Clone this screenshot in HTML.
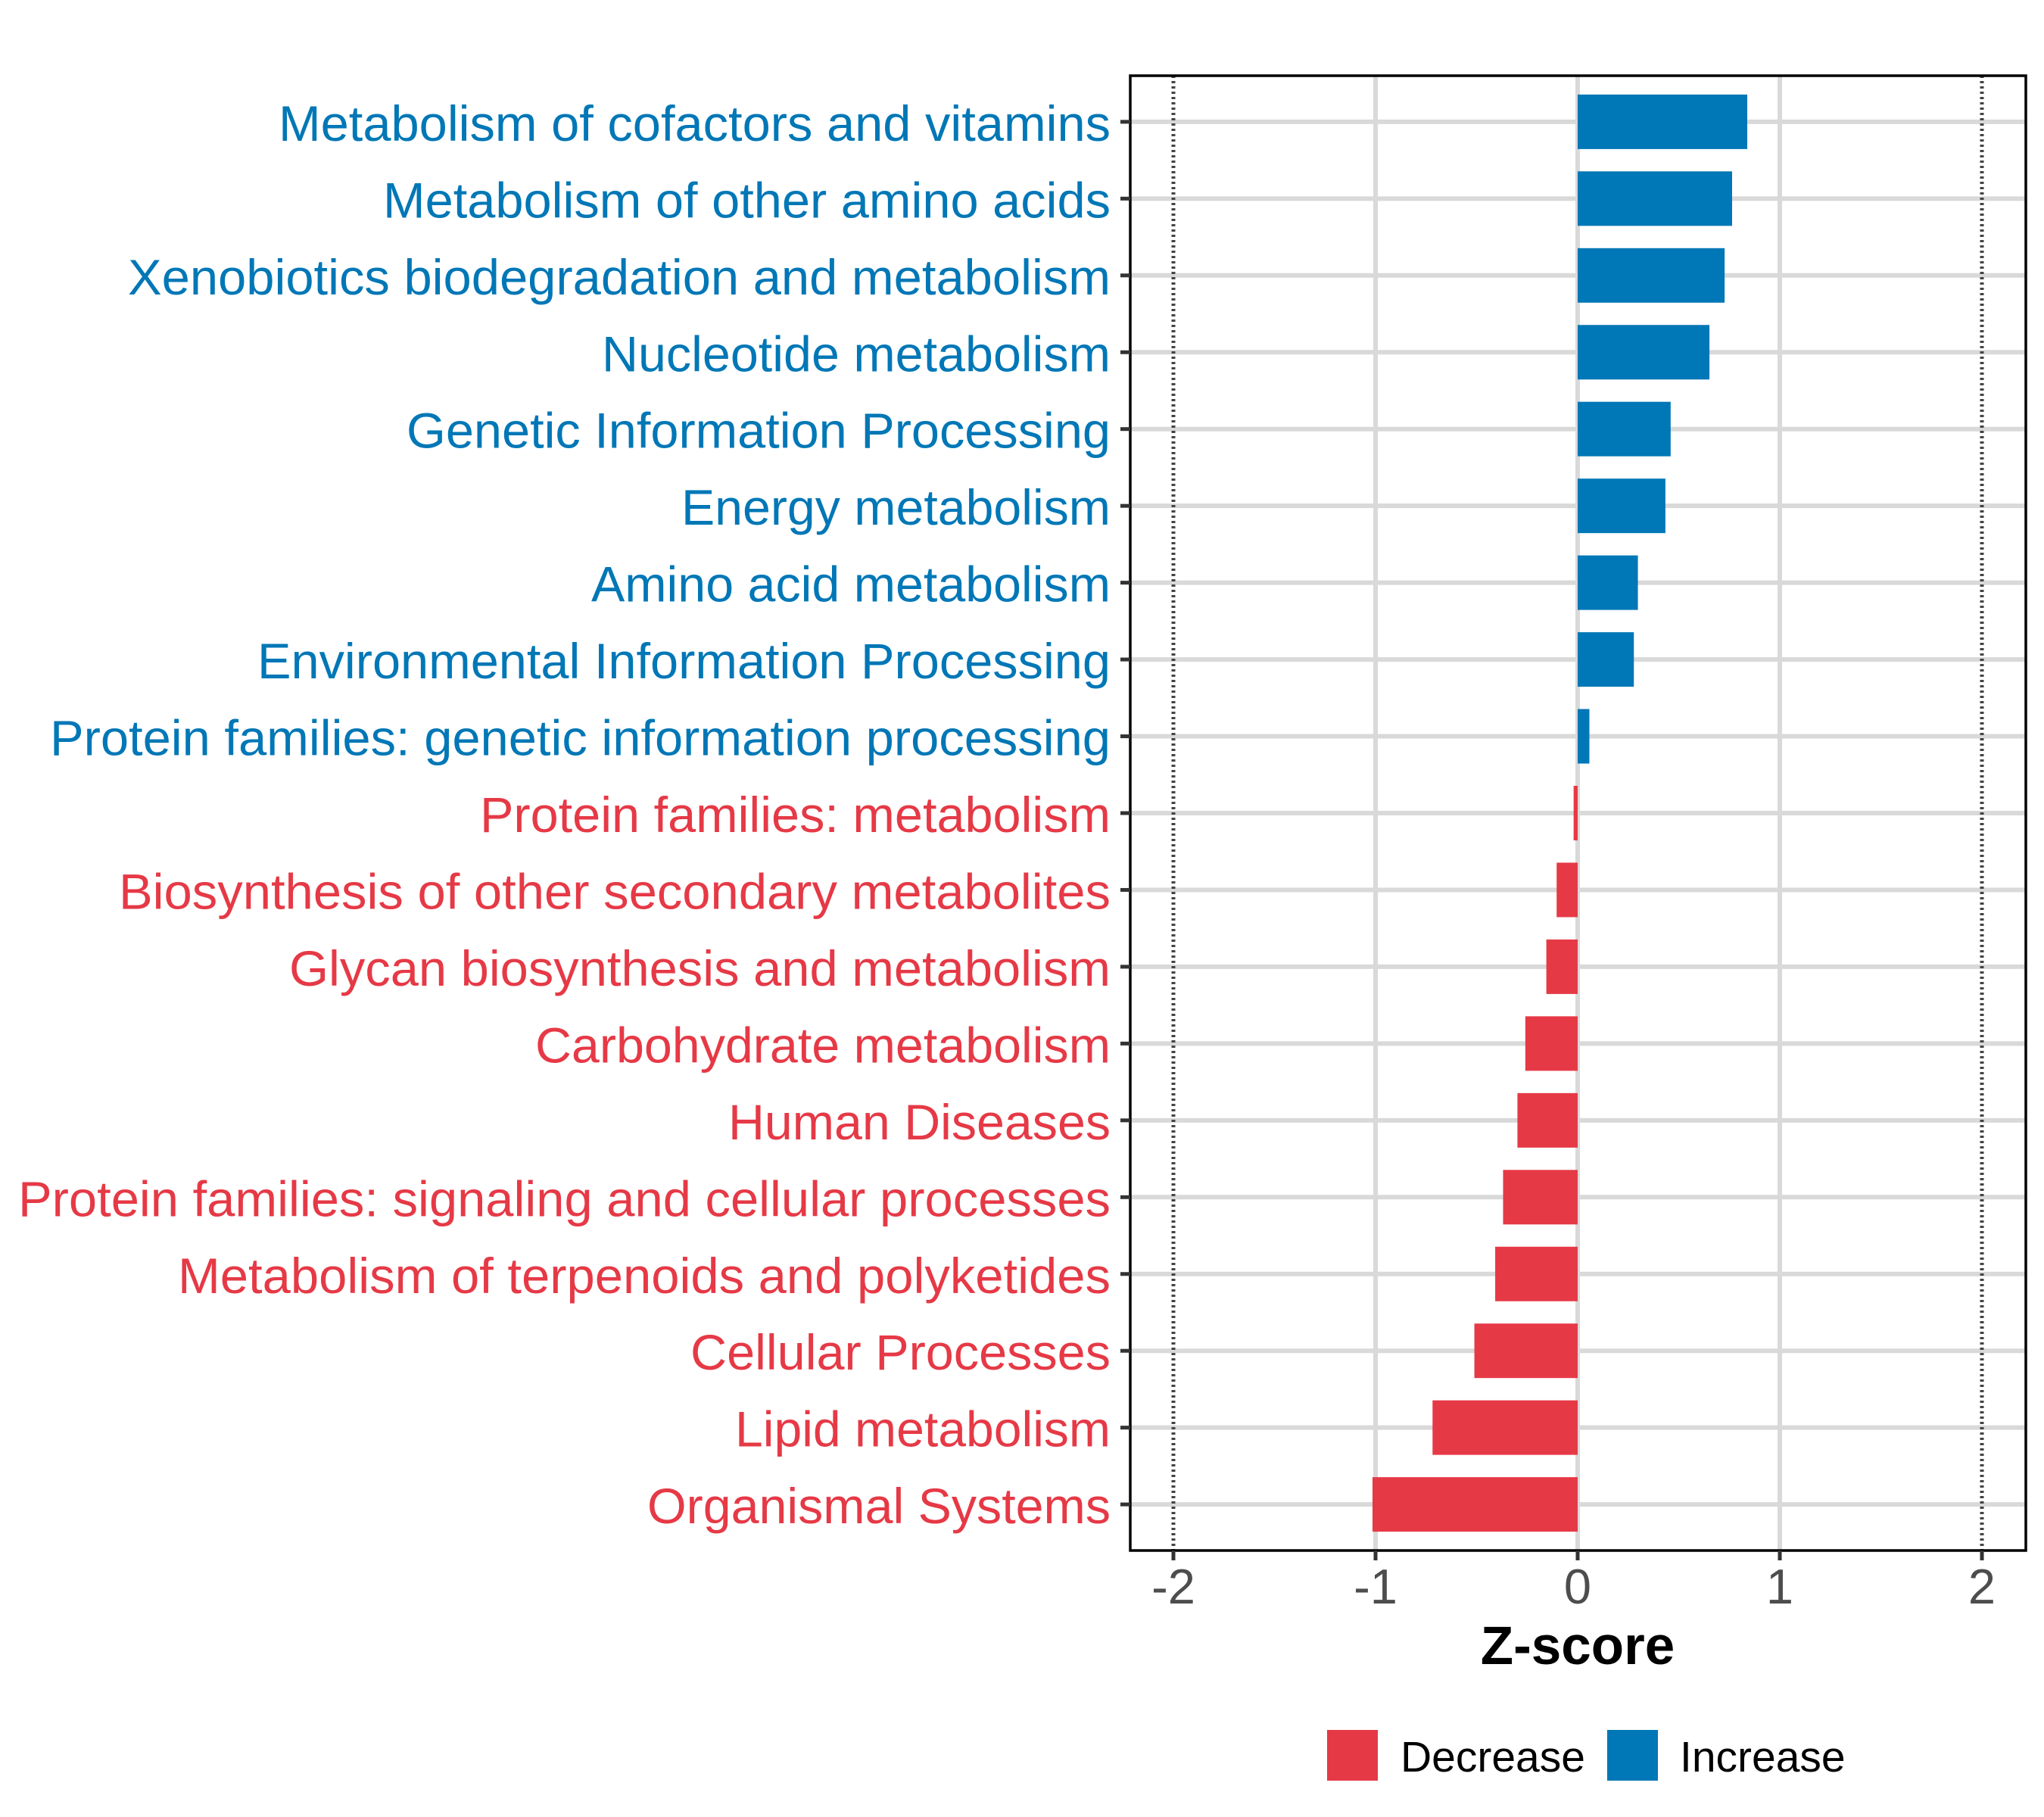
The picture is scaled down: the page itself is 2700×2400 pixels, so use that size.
<!DOCTYPE html>
<html><head><meta charset="utf-8"><style>
html,body{margin:0;padding:0;background:#fff;}
svg{display:block;font-family:"Liberation Sans",sans-serif;}
</style></head><body>
<svg id="chart" width="2700" height="2400" viewBox="0 0 2700 2400" xmlns="http://www.w3.org/2000/svg">
<g id="grid"></g>
<g id="bars"></g>
<g id="refs"></g>
<rect x="1493" y="100" width="1183" height="1948" fill="none" stroke="#000" stroke-width="3.5"/>
<g id="ylabels"></g>
<g id="xaxis"></g>
<text x="2084" y="2198" font-size="71" font-weight="bold" text-anchor="middle" fill="#000">Z-score</text>
<g>
<g>
<rect x="1753" y="2285" width="67" height="67" fill="#E63946"/>
<text x="1850" y="2340" font-size="57" fill="#000">Decrease</text>
</g>
<g>
<rect x="2123" y="2285" width="67" height="67" fill="#0077B6"/>
<text x="2219" y="2340" font-size="57" fill="#000">Increase</text>
</g>
</g>
</svg>
<script>
const categories = ["Metabolism of cofactors and vitamins","Metabolism of other amino acids","Xenobiotics biodegradation and metabolism","Nucleotide metabolism","Genetic Information Processing","Energy metabolism","Amino acid metabolism","Environmental Information Processing","Protein families: genetic information processing","Protein families: metabolism","Biosynthesis of other secondary metabolites","Glycan biosynthesis and metabolism","Carbohydrate metabolism","Human Diseases","Protein families: signaling and cellular processes","Metabolism of terpenoids and polyketides","Cellular Processes","Lipid metabolism","Organismal Systems"];
const zscores = [0.839,0.764,0.727,0.652,0.46,0.434,0.298,0.278,0.058,-0.02,-0.104,-0.155,-0.259,-0.298,-0.369,-0.408,-0.511,-0.718,-1.015];
const xTicks = [-2,-1,0,1,2];
const xTickLabels = ["-2","-1","0","1","2"];
const labelLefts = [368,506,169,795,537,900,781,340,66,634,157,382,707,962,24,235,912,971,855];

const NS="http://www.w3.org/2000/svg";
const PX0=1493, PX1=2676, PY0=100, PY1=2048;
const x0=2084, unit=267;
function xs(v){return x0+v*unit;}
const rowStep=(PY1-PY0)/19.2;
function ys(i){return PY0+(0.6+i)*rowStep;}
const RED="#E63946", BLUE="#0077B6";
const LABEL_RIGHT=1467;
function mk(tag,attrs,parent){const e=document.createElementNS(NS,tag);for(const k in attrs)e.setAttribute(k,attrs[k]);parent.appendChild(e);return e;}
const grid=document.getElementById('grid'),bars=document.getElementById('bars'),refs=document.getElementById('refs'),yl=document.getElementById('ylabels'),xa=document.getElementById('xaxis');

xTicks.forEach((t,i)=>{
  if(Math.abs(t)<2){
    const l=mk('line',{x1:xs(t),x2:xs(t),y1:PY0,y2:PY1,stroke:'#D9D9D9','stroke-width':6},grid);
    
    
  } else {
    const l=mk('line',{x1:xs(t),x2:xs(t),y1:PY0,y2:PY1,stroke:'#444','stroke-width':5,'stroke-dasharray':'3 4'},refs);
    
    
  }
  const tk=mk('line',{x1:xs(t),x2:xs(t),y1:PY1,y2:PY1+13,stroke:'#333','stroke-width':5},xa);
  
  
  const tx=mk('text',{x:xs(t),y:2118,'font-size':65,'text-anchor':'middle',fill:'#4D4D4D'},xa);
  tx.textContent=xTickLabels[i];
  
  
});

categories.forEach((c,i)=>{
  const y=ys(i);
  const g=mk('line',{x1:PX0,x2:PX1,y1:y,y2:y,stroke:'#D9D9D9','stroke-width':6},grid);
  
  
  const v=zscores[i];
  const col=v>=0?BLUE:RED;
  const h=72;
  const b=mk('rect',{x:Math.min(xs(0),xs(v)),y:y-h/2,width:Math.abs(xs(v)-xs(0)),height:h,fill:col},bars);
  
  
  const tk=mk('line',{x1:PX0-13,x2:PX0,y1:y,y2:y,stroke:'#333','stroke-width':5},yl);
  
  
  const t=mk('text',{x:labelLefts[i],y:y+25,'font-size':66,fill:col,textLength:LABEL_RIGHT-labelLefts[i],lengthAdjust:'spacingAndGlyphs'},yl);
  t.textContent=c;
  
  
});
</script>
</body></html>
